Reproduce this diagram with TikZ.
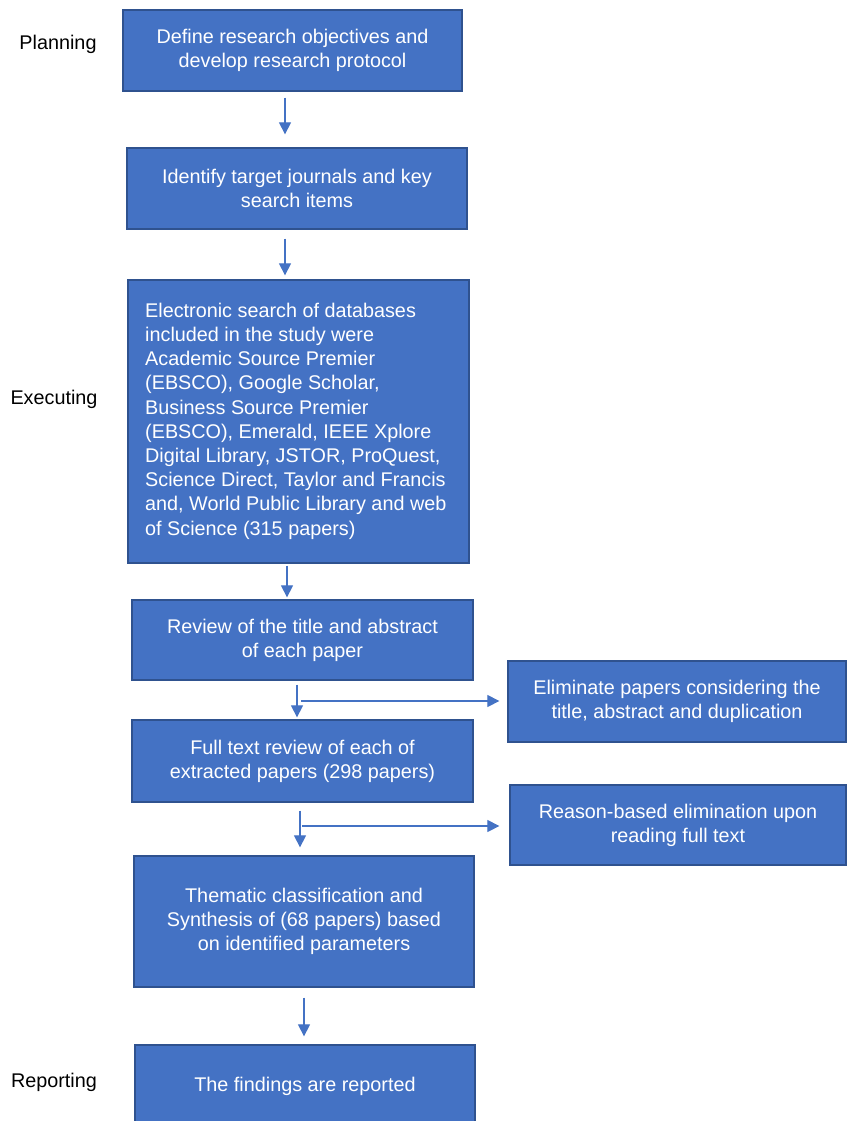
\documentclass[tikz,border=0pt]{standalone}
\usepackage{fontspec}
\setmainfont{Liberation Sans}
\usetikzlibrary{arrows.meta}
\definecolor{boxfill}{HTML}{4472C4}
\definecolor{boxline}{HTML}{2F528F}
\begin{document}
\begin{tikzpicture}[x=1pt,y=-1pt,
  box/.style={draw=boxline,fill=boxfill,line width=1.3pt,text=white,align=center,inner sep=0pt,
    font=\fontsize{19.8}{24.2}\selectfont},
  lab/.style={font=\fontsize{19.8}{24.2}\selectfont,inner sep=0pt},
  arr/.style={draw=boxfill,line width=1.2pt,-{Triangle[width=12pt,length=12pt]}}]
\useasboundingbox (0,0) rectangle (846,1121);
\node[lab] (lp) at (58,44) {Planning};
\node[lab] (le) at (54,399) {Executing};
\node[lab] (lr) at (54,1082) {Reporting};
\node[box,minimum width=339pt,minimum height=81pt] (b1) at (292.5,50.5) {Define research objectives and\\develop research protocol};
\node[box,minimum width=340pt,minimum height=81pt] (b2) at (297,188.5) {Identify target journals and key\\search items};
\node[box,minimum width=341pt,minimum height=283pt] (b3) at (298.5,421.5) {};
\node[lab,text=white,align=left,anchor=west] (t3) at (145,421) {Electronic search of databases\\included in the study were\\Academic Source Premier\\(EBSCO), Google Scholar,\\Business Source Premier\\(EBSCO), Emerald, IEEE Xplore\\Digital Library, JSTOR, ProQuest,\\Science Direct, Taylor and Francis\\and, World Public Library and web\\of Science (315 papers)};
\node[box,minimum width=341pt,minimum height=80pt] (b4) at (302.5,640) {Review of the title and abstract\\of each paper};
\node[box,minimum width=338pt,minimum height=81pt] (b5) at (677,701.5) {Eliminate papers considering the\\title, abstract and duplication};
\node[box,minimum width=341pt,minimum height=82pt] (b6) at (302.5,761) {Full text review of each of\\extracted papers (298 papers)};
\node[box,minimum width=336pt,minimum height=80pt] (b7) at (678,825) {Reason-based elimination upon\\reading full text};
\node[box,minimum width=340pt,minimum height=131pt] (b8) at (304,921.5) {Thematic classification and\\Synthesis of (68 papers) based\\on identified parameters};
\node[box,minimum width=340pt,minimum height=82pt] (b9) at (305,1086) {The findings are reported};
\draw[arr] ([shift={(-7.5,6)}]b1.south) -- ([shift={(-12,-13)}]b2.north);
\draw[arr] ([shift={(-12,9)}]b2.south) -- ([shift={(-13.5,-4)}]b3.north);
\draw[arr] ([shift={(-11.5,2)}]b3.south) -- ([shift={(-15.5,-2)}]b4.north);
\draw[arr] ([shift={(-5.5,4)}]b4.south) -- ([shift={(-5.5,-2)}]b6.north);
\coordinate (j1) at (301,701);
\draw[arr] (j1) -- ([shift={(-8,-0.5)}]b5.west);
\draw[arr] ([shift={(-2.5,8)}]b6.south) -- ([shift={(-4,-8)}]b8.north);
\coordinate (j2) at (302,826);
\draw[arr] (j2) -- ([shift={(-10,1)}]b7.west);
\draw[arr] ([shift={(0,10)}]b8.south) -- ([shift={(-1,-8)}]b9.north);
\end{tikzpicture}
\end{document}
